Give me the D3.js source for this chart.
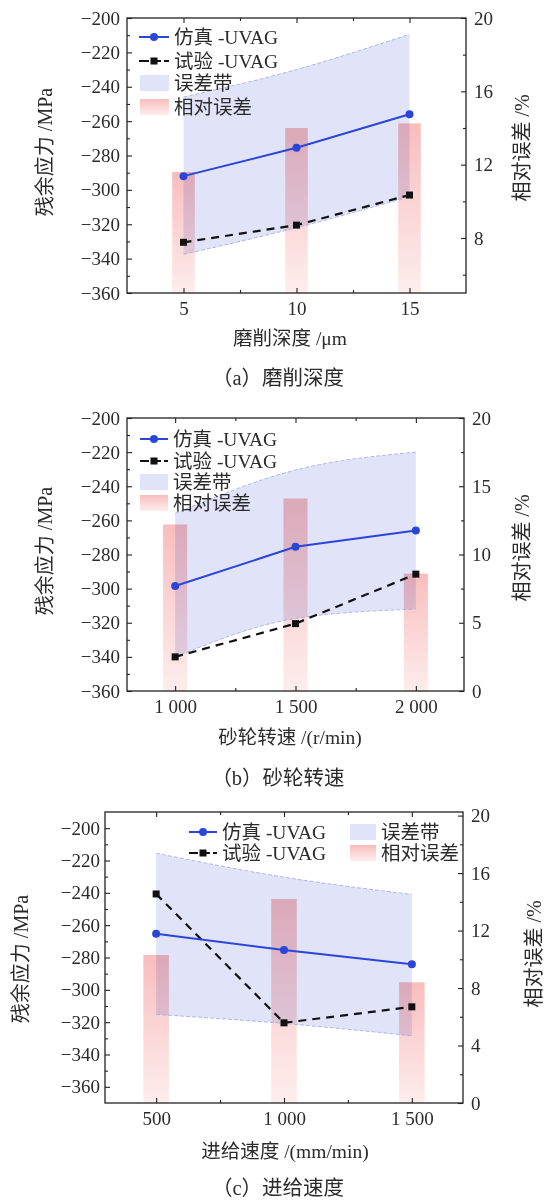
<!DOCTYPE html>
<html>
<head>
<meta charset="utf-8">
<script src="https://cdn.jsdelivr.net/npm/d3@7"></script>
<style>
body{margin:0;background:#fff}
svg text{font-family:"Liberation Serif","Times New Roman",Tinos,Times,serif,"Noto Sans CJK SC";fill:#2b2b2b}
</style>
</head>
<body>
<script>
// (a) grinding depth
var depthX=[5,10,15];
var depthSim=[-292,-275.5,-256];
var depthExp=[-330.5,-320.5,-303];
var depthBandUp=[-246,-230,-209.5];
var depthBandLow=[-337.5,-322,-304];
var depthErr=[11.6,14.0,14.25];

// (b) wheel speed
var speedX=[1000,1500,2000];
var speedSim=[-298.5,-275.5,-266];
var speedExp=[-340,-320.5,-291.5];
var speedBandUp=[-256,-230.5,-220];
var speedBandLow=[-340,-317.5,-312];
var speedErr=[12.2,14.1,8.6];

// (c) feed speed
var feedX=[500,1000,1500];
var feedSim=[-265.3,-275.4,-284.2];
var feedExp=[-240.7,-320.4,-310.5];
var feedBandUp=[-215.5,-230.3,-241];
var feedBandLow=[-315.2,-320.8,-328.4];
var feedErr=[10.3,14.2,8.4];

var yTicks=[-360,-340,-320,-300,-280,-260,-240,-220,-200];
var legendNames=["仿真 -UVAG","试验 -UVAG","误差带","相对误差"];

var blue="#2a46d8";
var serif='"Liberation Serif","Times New Roman",Tinos,Times,serif,"Noto Sans CJK SC"';

var svg=d3.select("body").append("svg")
  .attr("width",544).attr("height",1201);
svg.append("rect").attr("width",544).attr("height",1201).attr("fill","#fff");

var defs=svg.append("defs");
var grad=defs.append("linearGradient").attr("id","barGrad")
  .attr("x1",0).attr("y1",0).attr("x2",0).attr("y2",1);
grad.append("stop").attr("offset","0%").attr("stop-color","#f9bdbd");
grad.append("stop").attr("offset","100%").attr("stop-color","#fdeded");

function thousand(d){
  return d>=1000 ? d3.format(",")(d).replace(","," ") : d;
}

function drawPanel(p){
  var x=d3.scaleLinear().domain(p.xDomain).range([p.left,p.right]);
  var y=d3.scaleLinear().domain(p.yDomain).range([p.bottom,p.top]);
  var r=d3.scaleLinear().domain(p.rDomain).range([p.bottom,p.top]);
  var g=svg.append("g").style("font-family",serif);

  // relative error bars
  g.selectAll(".bar").data(p.xs).enter().append("rect")
    .attr("x",function(d){return x(d-p.barW/2)})
    .attr("width",function(d){return x(d+p.barW/2)-x(d-p.barW/2)})
    .attr("y",function(d,i){return r(p.err[i])})
    .attr("height",function(d,i){return p.bottom-r(p.err[i])})
    .attr("fill","url(#barGrad)");

  // error band
  var pts=p.xs.map(function(d,i){return [d,p.bandLow[i],p.bandUp[i]]});
  var area=d3.area().curve(d3.curveMonotoneX)
    .x(function(d){return x(d[0])})
    .y0(function(d){return y(d[1])})
    .y1(function(d){return y(d[2])});
  g.append("path").datum(pts).attr("d",area)
    .attr("fill","#e1e4f9").style("mix-blend-mode","multiply");
  [1,2].forEach(function(k){
    g.append("path").datum(pts)
      .attr("d",d3.line().curve(d3.curveMonotoneX)
        .x(function(d){return x(d[0])}).y(function(d){return y(d[k])}))
      .attr("fill","none").attr("stroke","#a9b0e4")
      .attr("stroke-width",0.9).attr("stroke-dasharray","4,2");
  });

  var line=d3.line().x(function(d){return x(d[0])}).y(function(d){return y(d[1])});
  var expPts=p.xs.map(function(d,i){return [d,p.exp[i]]});
  var simPts=p.xs.map(function(d,i){return [d,p.sim[i]]});

  g.append("path").datum(expPts).attr("d",line)
    .attr("fill","none").attr("stroke","#111").attr("stroke-width",2.2)
    .attr("stroke-dasharray","8,6");
  g.selectAll(".sq").data(expPts).enter().append("rect")
    .attr("x",function(d){return x(d[0])-3.5}).attr("y",function(d){return y(d[1])-3.5})
    .attr("width",7).attr("height",7).attr("fill","#111");

  g.append("path").datum(simPts).attr("d",line)
    .attr("fill","none").attr("stroke",blue).attr("stroke-width",2);
  g.selectAll(".dot").data(simPts).enter().append("circle")
    .attr("cx",function(d){return x(d[0])}).attr("cy",function(d){return y(d[1])})
    .attr("r",4).attr("fill",blue);

  // axes, ticks inward
  function styleAxis(sel){
    sel.attr("font-family",null);
    sel.select(".domain").remove();
    sel.selectAll("line").attr("stroke","#222").attr("stroke-width",1.1);
    sel.selectAll("text").attr("font-size","19px").style("fill","#2b2b2b")
      .style("font-family",serif);
  }
  var ax;
  ax=g.append("g").attr("transform","translate(0,"+p.bottom+")")
    .call(d3.axisBottom(x).tickValues(p.xs).tickSize(-5).tickPadding(9).tickFormat(thousand));
  styleAxis(ax);
  ax=g.append("g").attr("transform","translate(0,"+p.bottom+")")
    .call(d3.axisBottom(x).tickValues(p.xMinor).tickSize(-3).tickFormat(""));
  styleAxis(ax);
  ax=g.append("g").attr("transform","translate(0,"+p.top+")")
    .call(d3.axisTop(x).tickValues(p.xs).tickSize(-5).tickFormat(""));
  styleAxis(ax);
  ax=g.append("g").attr("transform","translate(0,"+p.top+")")
    .call(d3.axisTop(x).tickValues(p.xMinor).tickSize(-3).tickFormat(""));
  styleAxis(ax);

  ax=g.append("g").attr("transform","translate("+p.left+",0)")
    .call(d3.axisLeft(y).tickValues(yTicks).tickSize(-5).tickPadding(p.yPad));
  styleAxis(ax);
  ax=g.append("g").attr("transform","translate("+p.left+",0)")
    .call(d3.axisLeft(y).tickValues(yTicks.slice(1).map(function(d){return d-10})).tickSize(-3).tickFormat(""));
  styleAxis(ax);

  ax=g.append("g").attr("transform","translate("+p.right+",0)")
    .call(d3.axisRight(r).tickValues(p.rMajor).tickSize(-5).tickPadding(8).tickFormat(d3.format("d")));
  styleAxis(ax);
  ax=g.append("g").attr("transform","translate("+p.right+",0)")
    .call(d3.axisRight(r).tickValues(p.rMinor).tickSize(-3).tickFormat(""));
  styleAxis(ax);

  g.append("rect").attr("x",p.left).attr("y",p.top)
    .attr("width",p.right-p.left).attr("height",p.bottom-p.top)
    .attr("fill","none").attr("stroke","#222").attr("stroke-width",1.3);

  // titles
  g.append("text").attr("transform","translate("+p.yLabX+","+p.yLabY+") rotate(-90)")
    .attr("text-anchor","middle").attr("dominant-baseline","central")
    .attr("font-size","20px").text("残余应力 /MPa");
  g.append("text").attr("transform","translate("+p.rLabX+","+p.rLabY+") rotate(-90)")
    .attr("text-anchor","middle").attr("dominant-baseline","central")
    .attr("font-size","20px").text("相对误差 /%");
  g.append("text").attr("x",p.xLabX).attr("y",p.xLabY)
    .attr("text-anchor","middle").attr("font-size","19.5px").text(p.xTitle);
  g.append("text").attr("x",p.capX).attr("y",p.capY)
    .attr("text-anchor","middle").attr("font-size","20.5px").text(p.caption);

  // legend
  p.legend.forEach(function(it,i){
    var lg=g.append("g").attr("transform","translate("+it[0]+","+it[1]+")");
    var w=it[2];
    if(i===0){
      lg.append("line").attr("x1",0).attr("x2",w).attr("stroke",blue).attr("stroke-width",2);
      lg.append("circle").attr("cx",w/2).attr("r",4).attr("fill",blue);
    } else if(i===1){
      lg.append("line").attr("x1",0).attr("x2",w).attr("stroke","#111")
        .attr("stroke-width",2.2).attr("stroke-dasharray",(w/2-5)+",3,9,3,"+(w/2-5));
      lg.append("rect").attr("x",w/2-3.5).attr("y",-3.5).attr("width",7).attr("height",7).attr("fill","#111");
    } else {
      lg.append("rect").attr("x",0).attr("y",-8).attr("width",w).attr("height",16)
        .attr("fill",i===2?"#e1e4f9":"url(#barGrad)");
    }
    lg.append("text").attr("x",w+5).attr("y",0).attr("dominant-baseline","central")
      .attr("font-size","19.5px").text(legendNames[i]);
  });
}

drawPanel({
  left:127,right:466,top:18,bottom:293,
  xDomain:[2.5,17.5],yDomain:[-360,-200],rDomain:[5,20],
  xs:depthX,sim:depthSim,exp:depthExp,bandUp:depthBandUp,bandLow:depthBandLow,err:depthErr,
  barW:1,xMinor:[7.5,12.5],rMajor:[8,12,16,20],rMinor:[6,10,14,18],yPad:7,
  yLabX:45,yLabY:152,rLabX:522,rLabY:148,
  xTitle:"磨削深度 /μm",xLabX:290,xLabY:345,
  caption:"（a）磨削深度",capX:278,capY:385,
  legend:[[139,37,30],[139,61,30],[140,83,29],[140,107,29]]
});

drawPanel({
  left:127,right:464,top:418,bottom:691,
  xDomain:[800,2200],yDomain:[-360,-200],rDomain:[0,20],
  xs:speedX,sim:speedSim,exp:speedExp,bandUp:speedBandUp,bandLow:speedBandLow,err:speedErr,
  barW:100,xMinor:[1250,1750],rMajor:[0,5,10,15,20],rMinor:[2.5,7.5,12.5,17.5],yPad:7,
  yLabX:45,yLabY:551,rLabX:522,rLabY:548,
  xTitle:"砂轮转速 /(r/min)",xLabX:290,xLabY:744,
  caption:"（b）砂轮转速",capX:278,capY:785,
  legend:[[140,439,28],[140,461,28],[140,482,28],[140,503,28]]
});

drawPanel({
  left:105,right:463,top:812,bottom:1103,
  xDomain:[300,1700],yDomain:[-370,-190],rDomain:[0,20.25],
  xs:feedX,sim:feedSim,exp:feedExp,bandUp:feedBandUp,bandLow:feedBandLow,err:feedErr,
  barW:100,xMinor:[750,1250],rMajor:[0,4,8,12,16,20],rMinor:[2,6,10,14,18],yPad:5,
  yLabX:21,yLabY:959,rLabX:534,rLabY:954,
  xTitle:"进给速度 /(mm/min)",xLabX:285,xLabY:1158,
  caption:"（c）进给速度",capX:278,capY:1195,
  legend:[[189,832,28],[189,853,28],[350,832,26],[350,853,26]]
});
</script>
</body>
</html>
